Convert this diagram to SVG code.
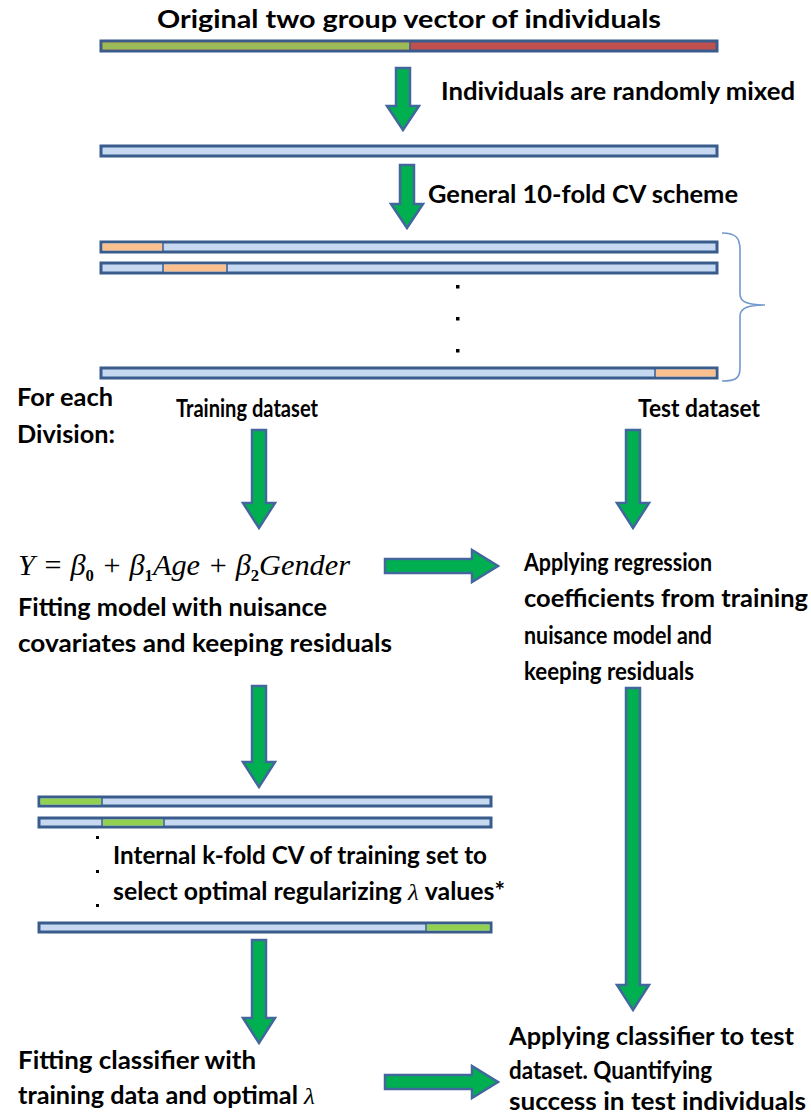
<svg xmlns="http://www.w3.org/2000/svg" width="811" height="1116" viewBox="0 0 811 1116">
<style>
.t{font-family:Lato,"Liberation Sans",sans-serif;font-weight:bold;font-size:24px;fill:#000}
.eq{font-family:"Liberation Serif","Times New Roman",serif;font-style:italic;font-size:29px;fill:#000}
.sub{font-family:"Liberation Serif",serif;font-style:normal;font-weight:bold;font-size:16px}
.lam{font-family:"Liberation Serif",serif;font-style:italic;font-weight:normal}
.bar{stroke:#395c8c;stroke-width:3}
.lb{fill:#c6d9f1}
.arr{fill:#00b050;stroke:#41679c;stroke-width:2.5;stroke-linejoin:miter}
.dot{fill:#000}
</style>
<rect width="811" height="1116" fill="#fff"/>

<g id="title"><text class="t" x="409" y="28" text-anchor="middle" textLength="504" lengthAdjust="spacingAndGlyphs">Original two group vector of individuals</text></g>

<g id="bar-original">
<rect x="101" y="41" width="616" height="10" fill="#c0504d" class="bar"/>
<rect x="102.5" y="42.5" width="307" height="7" fill="#9bbb59"/>
<line x1="410" y1="42" x2="410" y2="50" stroke="#395c8c" stroke-width="1.5"/>
</g>

<g id="label-mixed"><text class="t" x="441" y="100" textLength="354" lengthAdjust="spacingAndGlyphs">Individuals are randomly mixed</text></g>

<g id="bar-mixed"><rect x="101" y="146" width="616" height="10" class="bar lb"/></g>

<g id="label-cv"><text class="t" x="428" y="203" textLength="310" lengthAdjust="spacingAndGlyphs">General 10-fold CV scheme</text></g>

<g id="cv-folds">
<rect x="101" y="242" width="616" height="10" class="bar lb"/>
<rect x="102.5" y="243.5" width="60" height="7" fill="#fac08f"/>
<line x1="163" y1="243" x2="163" y2="251" stroke="#395c8c" stroke-width="1.5"/>
<rect x="101" y="263" width="616" height="10" class="bar lb"/>
<rect x="164" y="264.5" width="62" height="7" fill="#fac08f"/>
<line x1="163" y1="264" x2="163" y2="272" stroke="#395c8c" stroke-width="1.5"/>
<line x1="227" y1="264" x2="227" y2="272" stroke="#395c8c" stroke-width="1.5"/>
<rect x="456" y="285" width="3.5" height="3.5" class="dot"/>
<rect x="456" y="317" width="3.5" height="3.5" class="dot"/>
<rect x="456" y="349" width="3.5" height="3.5" class="dot"/>
<rect x="101" y="368" width="616" height="10" class="bar lb"/>
<rect x="656" y="369.5" width="59.5" height="7" fill="#fac08f"/>
<line x1="655" y1="369" x2="655" y2="377" stroke="#395c8c" stroke-width="1.5"/>
<path d="M722,233 C736,233 740,238 740,250 V294 C740,302 748,305 765,305 C748,305 740,308 740,316 V368 C740,378 736,381 722,381" fill="none" stroke="#7399cb" stroke-width="1.6"/>
</g>

<g id="label-division"><text class="t" x="17" y="406" textLength="96" lengthAdjust="spacingAndGlyphs">For each</text><text class="t" x="17" y="443" textLength="98" lengthAdjust="spacingAndGlyphs">Division:</text></g>
<g id="label-training"><text class="t" x="176" y="417" textLength="142" lengthAdjust="spacingAndGlyphs">Training dataset</text></g>
<g id="label-test"><text class="t" x="638" y="417" textLength="122" lengthAdjust="spacingAndGlyphs">Test dataset</text></g>

<g id="equation"><text class="eq" x="18" y="575" textLength="332" lengthAdjust="spacingAndGlyphs">Y = β<tspan class="sub" dy="6">0</tspan><tspan dy="-6"> + β</tspan><tspan class="sub" dy="6">1</tspan><tspan dy="-6">Age + β</tspan><tspan class="sub" dy="6">2</tspan><tspan dy="-6">Gender</tspan></text></g>

<g id="fit-nuisance"><text class="t" x="18" y="616" textLength="309" lengthAdjust="spacingAndGlyphs">Fitting model with nuisance</text><text class="t" x="18" y="652" textLength="374" lengthAdjust="spacingAndGlyphs">covariates and keeping residuals</text></g>

<g id="apply-regression"><text class="t" x="524" y="571" textLength="188" lengthAdjust="spacingAndGlyphs">Applying regression</text><text class="t" x="524" y="607" textLength="284" lengthAdjust="spacingAndGlyphs">coefficients from training</text><text class="t" x="524" y="644" textLength="188" lengthAdjust="spacingAndGlyphs">nuisance model and</text><text class="t" x="524" y="680" textLength="170" lengthAdjust="spacingAndGlyphs">keeping residuals</text></g>

<g id="inner-cv">
<rect x="39" y="797" width="452" height="9" class="bar lb"/>
<rect x="40.5" y="798.5" width="61" height="6" fill="#92d050"/>
<line x1="102" y1="798" x2="102" y2="805" stroke="#395c8c" stroke-width="1.5"/>
<rect x="39" y="818" width="452" height="9" class="bar lb"/>
<rect x="103" y="819.5" width="60" height="6" fill="#92d050"/>
<line x1="102" y1="819" x2="102" y2="826" stroke="#395c8c" stroke-width="1.5"/>
<line x1="164" y1="819" x2="164" y2="826" stroke="#395c8c" stroke-width="1.5"/>
<rect x="96" y="836" width="3" height="3" class="dot"/>
<rect x="96" y="870" width="3" height="3" class="dot"/>
<rect x="96" y="904" width="3" height="3" class="dot"/>
<rect x="39" y="923" width="452" height="9" class="bar lb"/>
<rect x="427" y="924.5" width="62.5" height="6" fill="#92d050"/>
<line x1="426" y1="924" x2="426" y2="931" stroke="#395c8c" stroke-width="1.5"/>
</g>

<g id="label-inner"><text class="t" x="113" y="864" textLength="374" lengthAdjust="spacingAndGlyphs">Internal k-fold CV of training set to</text><text class="t" x="113" y="900" textLength="392" lengthAdjust="spacingAndGlyphs">select optimal regularizing <tspan class="lam">λ</tspan> values*</text></g>

<g id="fit-classifier"><text class="t" x="18" y="1069" textLength="238" lengthAdjust="spacingAndGlyphs">Fitting classifier with</text><text class="t" x="18" y="1104" textLength="297" lengthAdjust="spacingAndGlyphs">training data and optimal <tspan class="lam">λ</tspan></text></g>

<g id="apply-classifier"><text class="t" x="509" y="1045" textLength="285" lengthAdjust="spacingAndGlyphs">Applying classifier to test</text><text class="t" x="509" y="1079" textLength="203" lengthAdjust="spacingAndGlyphs">dataset. Quantifying</text><text class="t" x="509" y="1110" textLength="297" lengthAdjust="spacingAndGlyphs">success in test individuals</text></g>

<g id="connectors">
<path class="arr" d="M396,68 H410 V106 H419 L403,130 L387,106 H396 Z"/>
<path class="arr" d="M400,165 H414 V204 H423 L407,228 L391,204 H400 Z"/>
<path class="arr" d="M252,430 H266 V503 H275 L259,528 L243,503 H252 Z"/>
<path class="arr" d="M626,430 H640 V503 H649 L633,528 L617,503 H626 Z"/>
<path class="arr" d="M385,559 H472 V550 L498,566 L472,582 V573 H385 Z"/>
<path class="arr" d="M252,686 H266 V762 H275 L259,787 L243,762 H252 Z"/>
<path class="arr" d="M626,688 H640 V985 H649 L633,1010 L617,985 H626 Z"/>
<path class="arr" d="M252,940 H266 V1018 H275 L259,1043 L243,1018 H252 Z"/>
<path class="arr" d="M385,1075 H472 V1066 L498,1082 L472,1098 V1089 H385 Z"/>
</g>
</svg>
